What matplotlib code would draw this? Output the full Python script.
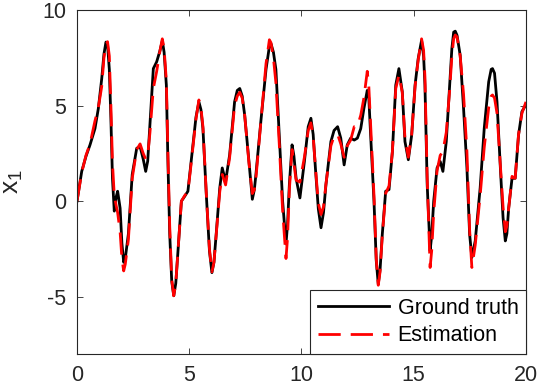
import matplotlib
matplotlib.use("Agg")
import matplotlib.pyplot as plt

# time samples and the two traces
t = [0.00, 0.21, 0.40, 0.58, 0.80, 0.95, 1.10, 1.20, 1.29, 1.36, 1.44, 1.51, 1.58, 1.66,
     1.74, 1.81, 1.92, 2.00, 2.08, 2.15, 2.29, 2.46, 2.66, 2.81, 2.95, 3.06, 3.15, 3.25,
     3.40, 3.55, 3.70, 3.80, 3.88, 3.98, 4.05, 4.13, 4.22, 4.31, 4.40, 4.50, 4.65, 4.80,
     4.94, 5.05, 5.17, 5.30, 5.43, 5.52, 5.61, 5.76, 5.90, 6.01, 6.10, 6.20, 6.36, 6.47,
     6.62, 6.80, 7.02, 7.14, 7.25, 7.36, 7.47, 7.66, 7.81, 7.90, 7.97, 8.20, 8.42, 8.57,
     8.64, 8.75, 8.86, 9.01, 9.16, 9.31, 9.38, 9.46, 9.58, 9.66, 9.76, 9.93, 10.13, 10.30,
     10.42, 10.52, 10.62, 10.75, 10.87, 10.98, 11.09, 11.31, 11.45, 11.61, 11.75, 11.90,
     12.04, 12.19, 12.35, 12.49, 12.64, 12.78, 12.93, 13.00, 13.08, 13.23, 13.33, 13.42,
     13.50, 13.60, 13.75, 13.90, 14.05, 14.20, 14.34, 14.49, 14.61, 14.76, 14.91, 15.06,
     15.20, 15.35, 15.44, 15.50, 15.60, 15.73, 15.80, 15.89, 16.04, 16.18, 16.30, 16.45,
     16.60, 16.70, 16.78, 16.85, 16.93, 17.07, 17.22, 17.37, 17.49, 17.59, 17.74, 17.96,
     18.14, 18.34, 18.45, 18.51, 18.60, 18.71, 18.86, 18.98, 19.08, 19.15, 19.23, 19.38,
     19.52, 19.67, 19.82, 20.00]

ground_truth = [0.00, 1.56, 2.35, 2.95, 3.80, 4.85, 6.40, 7.70, 8.33, 8.20, 6.90, 4.30, 1.20, -0.52,
                0.20, 0.52, -0.36, -2.20, -3.20, -3.00, -1.70, 1.40, 2.77, 2.86, 2.20, 1.56, 2.10, 4.00,
                6.94, 7.30, 7.90, 8.40, 7.80, 6.08, 2.08, -1.70, -4.20, -4.95, -4.30, -2.60, 0.00, 0.26,
                0.52, 1.70, 2.95, 4.40, 5.20, 4.80, 3.80, 0.35, -2.60, -3.74, -3.20, -1.73, 0.70, 1.74,
                1.04, 2.43, 5.20, 5.80, 5.90, 5.50, 4.50, 2.08, 0.10, 0.60, 1.40, 4.30, 6.90, 8.10,
                8.25, 7.80, 6.90, 3.47, 0.00, -2.24, -1.20, 0.87, 2.95, 2.40, 1.20, 0.17, 2.08, 3.90,
                4.34, 3.50, 1.74, -0.40, -1.39, -0.60, 0.87, 3.12, 3.70, 3.90, 3.30, 1.90,
                2.95, 3.30, 3.20, 3.30, 3.80, 4.85, 5.80, 5.40, 3.47, 0.00, -3.10, -4.34,
                -3.60, -1.73, 0.52, 0.61, 2.60, 6.08, 6.94, 5.73, 3.12, 2.17, 3.47, 6.08,
                7.47, 8.42, 7.60, 6.08, 0.87, -2.60, -1.80, 0.00, 1.74, 2.08, 1.56, 3.12,
                6.08, 8.00, 8.85, 8.90, 8.68, 7.64, 4.86, 1.74, -1.73, -2.95, -2.08, 0.70,
                3.80, 6.25, 6.90, 6.94, 6.70, 5.20, 1.74, -0.87, -2.08, -1.70, -0.35, 1.20,
                1.20, 3.47, 4.69, 5.05]

estimation = [0.00, 1.50, 2.40, 3.00, 4.20, 4.90, 6.00, 7.50, 8.20, 8.35, 7.60, 5.00, 2.00, 0.30,
              -0.20, -0.60, -1.60, -3.00, -3.65, -3.30, -2.00, 1.20, 2.70, 3.00, 2.50, 2.20, 2.40, 3.60,
              5.90, 6.80, 7.90, 8.50, 8.00, 6.30, 2.50, -1.30, -4.10, -4.95, -4.30, -2.60, 0.00, 0.30,
              0.50, 1.60, 2.90, 4.30, 5.30, 4.90, 3.90, 0.40, -2.50, -3.70, -3.20, -1.80, 0.50, 1.40,
              0.85, 2.30, 5.00, 5.50, 5.70, 5.40, 4.50, 2.00, 0.40, 0.60, 1.20, 4.30, 7.20, 8.45,
              8.30, 7.50, 6.20, 3.00, -0.50, -3.00, -1.90, 0.60, 2.70, 2.00, 1.10, 1.00, 2.30, 3.70,
              4.10, 3.40, 1.80, -0.10, -0.70, -0.30, 0.90, 2.90, 3.40, 3.50, 3.00, 2.30,
              2.90, 3.20, 3.90, 3.90, 4.50, 5.40, 6.80, 6.00, 4.00, 0.30, -3.00, -4.40,
              -3.70, -1.80, 0.40, 0.80, 2.60, 5.90, 6.60, 5.70, 3.30, 2.30, 3.50, 6.00,
              7.40, 8.50, 7.90, 6.50, 1.20, -3.47, -2.60, -0.60, 1.60, 2.40, 2.60, 3.60,
              5.80, 7.60, 8.50, 8.70, 8.60, 7.60, 5.60, 2.60, -1.50, -3.47, -2.30, 0.30,
              2.80, 4.90, 5.50, 5.56, 5.40, 4.60, 1.90, -0.30, -1.60, -1.30, -0.40, 1.30,
              1.20, 3.50, 4.60, 5.20]

x_ticks = [0, 5, 10, 15, 20]
y_ticks = [-5, 0, 5, 10]

plt.rcParams['font.family'] = ['Liberation Sans', 'DejaVu Sans']
plt.rcParams['axes.unicode_minus'] = False

fig = plt.figure(figsize=(5.4, 3.91), dpi=100)
ax = fig.add_axes([0.1426, 0.0946, 0.8314, 0.8794])

ax.plot(t, ground_truth, color='black', lw=2.0, label='Ground truth')
ax.plot(t, estimation, color='red', lw=2.0, linestyle=(0, (8, 3.6)), label='Estimation')

ax.set_xlim(0, 20)
ax.set_ylim(-8, 10)
ax.set_xticks(x_ticks)
ax.set_yticks(y_ticks)
ax.tick_params(direction='in', top=True, right=True, labelsize=15.5,
               length=4, width=0.6, colors='#262626', pad=8)
for s in ax.spines.values():
    s.set_linewidth(0.8)
    s.set_color('#262626')
ax.set_ylabel(r'$\mathregular{x_1}$', fontsize=19, color='#262626', labelpad=12)

leg = ax.legend(loc='lower right', fontsize=15.5, handlelength=3.3, handletextpad=0.4,
                labelspacing=0.3, borderaxespad=0, borderpad=0.35, fancybox=False,
                framealpha=1, edgecolor='#262626')
leg.get_frame().set_linewidth(0.8)

fig.savefig('out.png', dpi=100)
